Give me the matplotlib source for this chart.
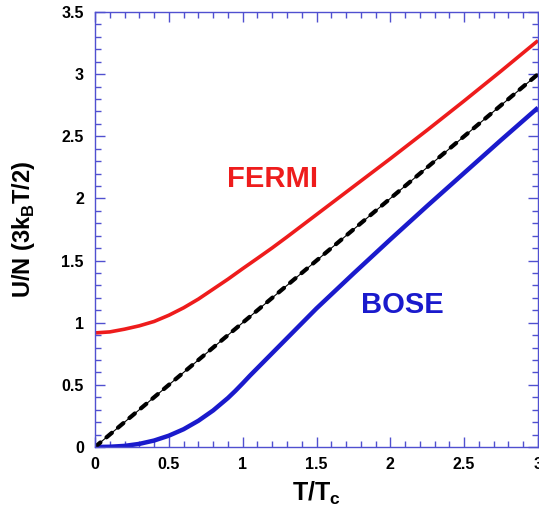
import matplotlib
matplotlib.use('Agg')
import matplotlib.pyplot as plt
from matplotlib.ticker import MultipleLocator

plt.rcParams['font.family'] = ['Liberation Sans', 'DejaVu Sans']
plt.rcParams['font.weight'] = 'bold'
plt.rcParams['mathtext.fontset'] = 'custom'
plt.rcParams['mathtext.bf'] = 'Liberation Sans:bold'
plt.rcParams['mathtext.rm'] = 'Liberation Sans:bold'

# values
t_fermi = [0, 0.1, 0.2, 0.3, 0.4, 0.5, 0.6, 0.7, 0.8, 0.9, 1.0, 1.1, 1.2, 1.3, 1.4, 1.5,
           1.75, 2.0, 2.25, 2.5, 2.75, 3.0]
u_fermi = [0.918, 0.926, 0.948, 0.975, 1.01, 1.06, 1.12, 1.19, 1.27, 1.35, 1.435, 1.518, 1.602,
           1.69, 1.78, 1.87, 2.095, 2.32, 2.55, 2.785, 3.025, 3.27]

t_bose = [0, 0.1, 0.2, 0.3, 0.4, 0.5, 0.6, 0.7, 0.8, 0.9, 0.95, 1.0, 1.05, 1.1, 1.2, 1.3, 1.4,
          1.5, 1.75, 2.0, 2.25, 2.5, 2.75, 3.0]
u_bose = [0, 0.002, 0.009, 0.025, 0.052, 0.091, 0.143, 0.211, 0.294, 0.394, 0.451, 0.512,
          0.575, 0.635, 0.755, 0.875, 0.995, 1.115, 1.395, 1.67, 1.94, 2.205, 2.47, 2.73]

t_class = [0, 3.0]
u_class = [0, 3.0]

spine_col = '#5050d0'

fig = plt.figure(figsize=(5.39, 5.16), dpi=100)
ax = fig.add_axes([95 / 539, 69 / 516, 443 / 539, 435 / 516])

ax.plot(t_fermi, u_fermi, color='#ee1c1c', lw=2.6, solid_capstyle='butt')
ax.plot(t_bose, u_bose, color='#1a1acc', lw=3.2, solid_capstyle='butt')
ax.plot(t_class, u_class, color='black', lw=0.8)
ax.plot(t_class, u_class, color='black', lw=3.0, dashes=(1.7, 1.9), dash_capstyle='round')

ax.text(1.2, 2.16, 'FERMI', color='#ee1c1c', fontsize=21, fontweight='bold', ha='center', va='center')
ax.text(2.08, 1.14, 'BOSE', color='#1a1acc', fontsize=21, fontweight='bold', ha='center', va='center')

ax.set_xlim(0, 3)
ax.set_ylim(0, 3.5)
ax.xaxis.set_minor_locator(MultipleLocator(0.1))
ax.yaxis.set_minor_locator(MultipleLocator(0.1))
ax.set_xticks([0, 0.5, 1, 1.5, 2, 2.5, 3])
ax.set_xticklabels(['0', '0.5', '1', '1.5', '2', '2.5', '3'])
ax.set_yticks([0, 0.5, 1, 1.5, 2, 2.5, 3, 3.5])
ax.set_yticklabels(['0', '0.5', '1', '1.5', '2', '2.5', '3', '3.5'])

for s in ax.spines.values():
    s.set_color(spine_col)
    s.set_linewidth(1.0)
ax.tick_params(which='both', direction='in', top=True, right=True, color=spine_col, labelsize=11.5)
ax.tick_params(axis='x', pad=7)
ax.tick_params(axis='y', pad=8)
ax.tick_params(which='major', length=7, width=1)
ax.tick_params(which='minor', length=4, width=1)
for lab in ax.get_xticklabels() + ax.get_yticklabels():
    lab.set_fontweight('bold')

ax.set_xlabel('T/T$_\\mathbf{c}$', fontsize=18, fontweight='bold')
ax.set_ylabel('U/N (3k$_\\mathbf{B}$T/2)', fontsize=17, fontweight='bold')
ax.xaxis.set_label_coords(0.5, -0.075)
ax.yaxis.set_label_coords(-0.13, 0.5)

fig.savefig('out.png', dpi=100)
